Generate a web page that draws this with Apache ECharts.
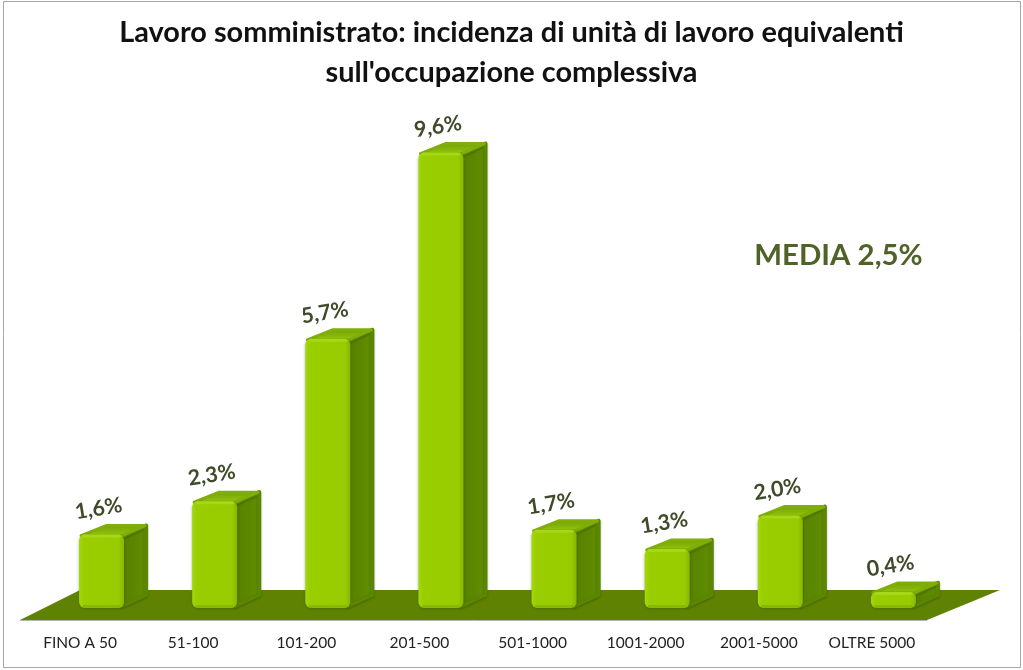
<!DOCTYPE html>
<html><head><meta charset="utf-8">
<style>html,body{margin:0;padding:0;background:#fff}#c{width:1023px;height:670px}</style>
<script src="https://cdn.jsdelivr.net/npm/echarts@6/dist/echarts.min.js"></script>
</head><body><div id="c"></div>
<script>
const categories = ['FINO A 50','51-100','101-200','201-500','501-1000','1001-2000','2001-5000','OLTRE 5000'];
const values = [1.6,2.3,5.7,9.6,1.7,1.3,2.0,0.4];
const titleText = "Lavoro somministrato: incidenza di unità di lavoro equivalenti\nsull'occupazione complessiva";
const mediaText = 'MEDIA 2,5%';
const font = 'Lato';
const grad = (x2,y2,stops)=>({type:'linear',x:0,y:0,x2,y2,colorStops:stops.map((c,i)=>({offset:c[0],color:c[1]}))});

function renderFloor(params, api){
  const p = api.coord([0,0]);
  const x0=p[0], y0=p[1];
  return {type:'group',children:[
    {type:'polygon',shape:{points:[[x0-60,y0+9],[x0+847,y0+9],[x0+920,y0-21],[x0,y0-21]]},
     style:{fill:'#5f8203'},z2:1},
    {type:'line',shape:{x1:x0-60,y1:y0+9.5,x2:x0+847,y2:y0+9.5},style:{stroke:'#b4b8a8',lineWidth:1},z2:1}
  ]};
}
function renderBar(params, api){
  const v = api.value(1);
  const c = api.coord([api.value(0),v]);
  const z = api.coord([api.value(0),0]);
  const w=45, dx=24, dy=-11, off=21;
  const l=c[0]+off-w/2+0.5, r=l+w, t=c[1], b=z[1]-3;
  const label = v.toFixed(1).replace('.',',')+'%';
  return {type:'group',children:[
    {type:'polygon',shape:{points:[[r-2,t+2],[r+dx-2,t+dy+2],[r+dx-2,b+dy-2],[r-2,b-2]]},
     style:{fill:grad(1,0,[[0,'#557f00'],[0.8,'#5f8c00'],[1,'#6c9906']]),stroke:'#5b8601',lineWidth:4,lineJoin:'round',shadowBlur:2,shadowColor:'rgba(50,70,0,0.5)',shadowOffsetY:1},z2:3},
    {type:'polygon',shape:{points:[[l+2,t+1],[l+dx+3,t+dy+2],[r+dx-3,t+dy+2],[r-2,t+1]]},
     style:{fill:grad(0,1,[[0,'#72a006'],[0.55,'#86b50a'],[1,'#a0d10c']]),stroke:'#7fae07',lineWidth:3,lineJoin:'round'},z2:4},
    {type:'rect',shape:{x:l,y:t,width:w,height:b-t,r:6},
     style:{fill:grad(1,0,[[0,'#a2d80c'],[0.1,'#9bce00'],[0.88,'#99cc00'],[1,'#88b602']]),shadowBlur:3,shadowColor:'rgba(60,80,0,0.45)',shadowOffsetY:1},z2:5},
    {type:'rect',shape:{x:l+3,y:t,width:w-6,height:3,r:2},style:{fill:'#aeda24',opacity:0.7},z2:6},
    {type:'rect',shape:{x:l+3,y:b-3,width:w-6,height:3,r:2},style:{fill:'#84ae08',opacity:0.7},z2:6},
    {type:'text',x:c[0]+18.5,y:t-26,rotation:0.16,
     style:{text:label,font:'bold 21.5px '+font,fill:'#3f4a2a',align:'center',verticalAlign:'middle'},z2:7}
  ]};
}
const chart = echarts.init(document.getElementById('c'),null,{renderer:'canvas'});
chart.setOption({
  animation:false,
  backgroundColor:'#fff',
  title:{text:titleText,left:506.5,top:8,textAlign:'center',
    textStyle:{fontFamily:font,fontWeight:'bold',fontSize:28.9,lineHeight:40,color:'#111'}},
  grid:{left:23.5,width:905,top:133.5,height:477.5},
  xAxis:{type:'category',data:categories,
    axisLine:{show:false},axisTick:{show:false},
    axisLabel:{interval:0,margin:24,fontFamily:font,fontSize:15.5,color:'#222'}},
  yAxis:{type:'value',min:0,max:10,show:false,splitLine:{show:false}},
  graphic:[
    {type:'rect',silent:true,z:-1,shape:{x:3.5,y:1.5,width:1017,height:666},style:{fill:'#fff',stroke:'#a6a6a6',lineWidth:1}},
    {type:'text',x:838.5,y:256,style:{text:mediaText,font:'bold 29.4px '+font,fill:'#4f6228',align:'center',verticalAlign:'middle'}}
  ],
  series:[
    {type:'custom',name:'floor',data:[[0,0]],encode:{x:0,y:1},renderItem:renderFloor,z:1,silent:true,clip:false},
    {type:'custom',name:'incidenza',data:values.map((v,i)=>[i,v]),encode:{x:0,y:1},renderItem:renderBar,z:2,silent:true,clip:false}
  ]
});
</script></body></html>
